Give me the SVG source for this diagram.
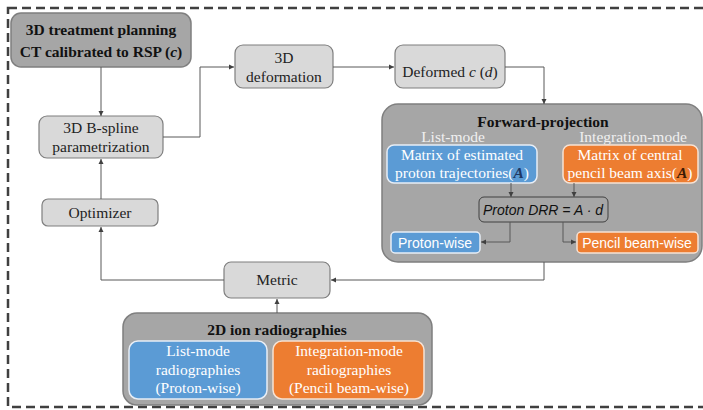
<svg xmlns="http://www.w3.org/2000/svg" width="703" height="410" viewBox="0 0 703 410">
<defs>
<marker id="ah" markerWidth="6" markerHeight="6" refX="5" refY="3" orient="auto" markerUnits="userSpaceOnUse">
<path d="M0,0.5 L5,3 L0,5.5 z" fill="#404040"/>
</marker>
<style>
.light{fill:#d9d9d9;stroke:#7f7f7f;stroke-width:1.2}
.dark{fill:#a6a6a6;stroke:#7f7f7f;stroke-width:1.5}
.blue{fill:#5b9bd5;stroke:#e8eef6;stroke-width:1.5}
.orange{fill:#ed7d31;stroke:#f6e2d4;stroke-width:1.5}
.t{font-family:"Liberation Serif",serif;font-size:15.5px;fill:#222;text-anchor:middle}
.b{font-family:"Liberation Serif",serif;font-size:15.5px;font-weight:bold;fill:#111;text-anchor:middle}
.w{font-family:"Liberation Serif",serif;font-size:15.5px;fill:#fff;text-anchor:middle}
.lab{font-family:"Liberation Serif",serif;font-size:15.5px;fill:#f0f0f0;text-anchor:middle}
.s{font-family:"Liberation Sans",sans-serif;font-size:14px;fill:#fff;text-anchor:middle}
.conn{fill:none;stroke:#595959;stroke-width:1}
</style>
</defs>
<rect x="8" y="8" width="710" height="399" fill="none" stroke="#404040" stroke-width="2.5" stroke-dasharray="9,5"/>
<g id="ct">
<rect class="dark" x="11" y="13" width="180" height="54" rx="10"/>
<text class="b" x="101" y="35">3D treatment planning</text>
<text class="b" x="101" y="57">CT calibrated to RSP (<tspan font-style="italic">c</tspan>)</text>
</g>
<g id="bspline">
<rect class="light" x="39" y="116" width="124" height="42" rx="8"/>
<text class="t" x="101" y="133">3D B-spline</text>
<text class="t" x="101" y="152">parametrization</text>
</g>
<g id="deformation">
<rect class="light" x="235" y="45" width="98" height="43" rx="8"/>
<text class="t" x="284" y="63">3D</text>
<text class="t" x="284" y="82">deformation</text>
</g>
<g id="deformed">
<rect class="light" x="395" y="45" width="110" height="43" rx="8"/>
<text class="t" x="450" y="77">Deformed <tspan font-style="italic">c</tspan> (<tspan font-style="italic">d</tspan>)</text>
</g>
<g id="optimizer">
<rect class="light" x="42" y="199" width="116" height="27" rx="6"/>
<text class="t" x="100" y="218">Optimizer</text>
</g>
<g id="metric">
<rect class="light" x="224" y="262" width="106" height="36" rx="7"/>
<text class="t" x="277" y="285">Metric</text>
</g>
<g id="forward">
<rect class="dark" x="382" y="104" width="320" height="158" rx="16"/>
<text class="b" x="543" y="127">Forward-projection</text>
<text class="lab" x="453" y="142">List-mode</text>
<text class="lab" x="633" y="142">Integration-mode</text>
<g id="listmatrix">
<rect class="blue" x="387" y="145" width="150" height="38" rx="7"/>
<text class="w" x="462" y="160">Matrix of estimated</text>
<text class="w" x="462" y="178">proton trajectories(<tspan font-style="italic" font-weight="bold" fill="#1f3864">A</tspan>)</text>
</g>
<g id="intmatrix">
<rect class="orange" x="563" y="145" width="135" height="38" rx="7"/>
<text class="w" x="630" y="160">Matrix of central</text>
<text class="w" x="630" y="178">pencil beam axis(<tspan font-style="italic" font-weight="bold" fill="#3b1a05">A</tspan>)</text>
</g>
<g id="drr">
<rect x="479" y="197" width="129" height="25" rx="5" fill="#a6a6a6" stroke="#404040" stroke-width="1"/>
<text x="543" y="215" font-family="Liberation Sans,sans-serif" font-size="14" font-style="italic" fill="#111" text-anchor="middle">Proton DRR = A · d</text>
</g>
<g id="protonwise">
<rect class="blue" x="391" y="232" width="89" height="21" rx="4"/>
<text class="s" x="435" y="248">Proton-wise</text>
</g>
<g id="pencilwise">
<rect class="orange" x="577" y="232" width="121" height="21" rx="4"/>
<text class="s" x="637" y="248">Pencil beam-wise</text>
</g>
</g>
<g id="radiographies">
<rect class="dark" x="123" y="313" width="309" height="92" rx="14"/>
<text class="b" x="277" y="335">2D ion radiographies</text>
<g id="listrad">
<rect class="blue" x="129" y="341" width="138" height="58" rx="9"/>
<text class="w" x="198" y="356">List-mode</text>
<text class="w" x="198" y="375">radiographies</text>
<text class="w" x="198" y="393">(Proton-wise)</text>
</g>
<g id="intrad">
<rect class="orange" x="273" y="341" width="151" height="58" rx="9"/>
<text class="w" x="349" y="356">Integration-mode</text>
<text class="w" x="349" y="375">radiographies</text>
<text class="w" x="349" y="393">(Pencil beam-wise)</text>
</g>
</g>
<g id="connectors">
<path class="conn" d="M101,67 V116" marker-end="url(#ah)"/>
<path class="conn" d="M163,137 H200 V67 H234" marker-end="url(#ah)"/>
<path class="conn" d="M333,67 H394" marker-end="url(#ah)"/>
<path class="conn" d="M505,67 H544 V104" marker-end="url(#ah)"/>
<path class="conn" d="M511,183 V197" marker-end="url(#ah)"/>
<path class="conn" d="M574,183 V197" marker-end="url(#ah)"/>
<path class="conn" d="M510,222 V242 H481" marker-end="url(#ah)"/>
<path class="conn" d="M563,222 V242 H576" marker-end="url(#ah)"/>
<path class="conn" d="M544,262 V280 H331" marker-end="url(#ah)"/>
<path class="conn" d="M224,280 H101 V227" marker-end="url(#ah)"/>
<path class="conn" d="M101,199 V159" marker-end="url(#ah)"/>
<path class="conn" d="M277,313 V299" marker-end="url(#ah)"/>
</g>
</svg>
